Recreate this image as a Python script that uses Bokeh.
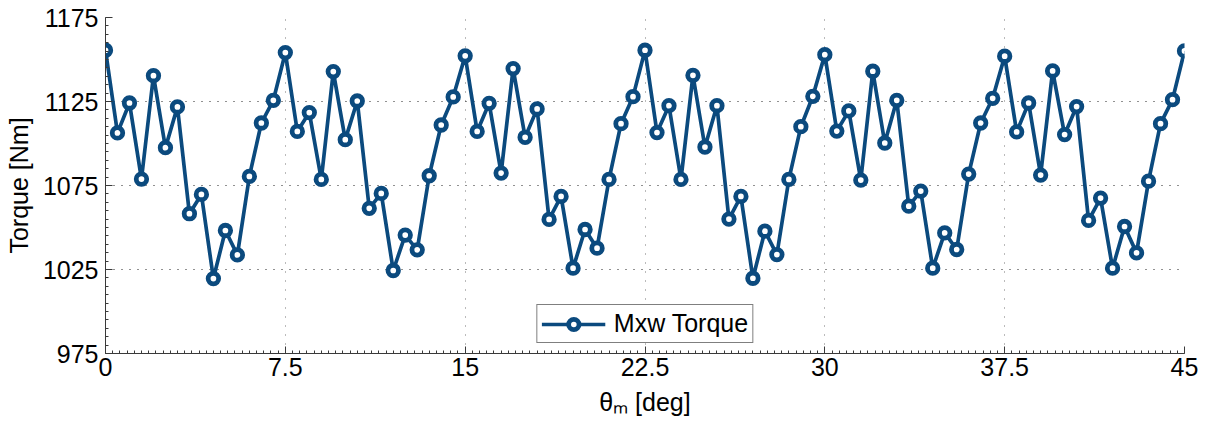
from bokeh.plotting import figure
from bokeh.models import (Range1d, FixedTicker, CustomJSTickFormatter,
                          Legend, LegendItem)
from bokeh.embed import file_html
from bokeh.resources import INLINE

# ---- data ----
theta_m = [0.0, 0.5, 1.0, 1.5, 2.0, 2.5, 3.0, 3.5, 4.0, 4.5, 5.0, 5.5, 6.0, 6.5, 7.0,
           7.5, 8.0, 8.5, 9.0, 9.5, 10.0, 10.5, 11.0, 11.5, 12.0, 12.5, 13.0, 13.5, 14.0, 14.5,
           15.0, 15.5, 16.0, 16.5, 17.0, 17.5, 18.0, 18.5, 19.0, 19.5, 20.0, 20.5, 21.0, 21.5, 22.0,
           22.5, 23.0, 23.5, 24.0, 24.5, 25.0, 25.5, 26.0, 26.5, 27.0, 27.5, 28.0, 28.5, 29.0, 29.5,
           30.0, 30.5, 31.0, 31.5, 32.0, 32.5, 33.0, 33.5, 34.0, 34.5, 35.0, 35.5, 36.0, 36.5, 37.0,
           37.5, 38.0, 38.5, 39.0, 39.5, 40.0, 40.5, 41.0, 41.5, 42.0, 42.5, 43.0, 43.5, 44.0, 44.5,
           45.0]
torque = [1155.5, 1106.3, 1124.1, 1078.8, 1140.4, 1097.5, 1121.8, 1058.2, 1069.7, 1019.6,
          1048.2, 1033.7, 1080.4, 1112.2, 1125.7,
          1154.1, 1107.2, 1118.4, 1078.6, 1142.8, 1102.3, 1125.3, 1061.4, 1070.3, 1024.4,
          1045.5, 1036.7, 1080.8, 1111.0, 1127.7,
          1152.2, 1107.2, 1123.9, 1082.4, 1144.6, 1103.7, 1120.6, 1054.8, 1068.5, 1025.8,
          1048.8, 1037.7, 1078.6, 1111.8, 1127.9,
          1155.5, 1106.5, 1122.5, 1078.6, 1140.6, 1097.9, 1122.5, 1055.0, 1068.5, 1019.8,
          1047.8, 1033.9, 1078.6, 1110.0, 1128.1,
          1152.9, 1107.4, 1119.4, 1078.2, 1143.0, 1100.3, 1125.7, 1062.7, 1071.7, 1025.8,
          1046.8, 1036.9, 1081.8, 1112.2, 1126.9,
          1152.0, 1106.9, 1124.1, 1081.2, 1143.2, 1105.3, 1122.0, 1054.2, 1067.5, 1025.8,
          1050.6, 1034.9, 1077.6, 1111.8, 1126.1,
          1155.1]
x_ticks = [0, 7.5, 15, 22.5, 30, 37.5, 45]
y_ticks = [975, 1025, 1075, 1125, 1175]
series_name = "Mxw Torque"
y_label = "Torque [Nm]"
x_label = "\u03b8\u2098 [deg]"

FONT = "Liberation Sans"
FS = "25px"
COLOR = "#0b4a7e"
AXC = "#3a3a3a"

p = figure(width=1205, height=425, output_backend="svg", toolbar_location=None,
           x_range=Range1d(0, 45), y_range=Range1d(975, 1175),
           min_border_left=105, min_border_right=21, min_border_top=17, min_border_bottom=72)
p.outline_line_color = None
p.background_fill_color = "white"
p.border_fill_color = "white"

x_minor = [round(0.3 * i, 4) for i in range(151)]
y_minor = [975 + 5 * i for i in range(41)]
xt = FixedTicker(ticks=x_ticks, minor_ticks=x_minor)
yt = FixedTicker(ticks=y_ticks, minor_ticks=y_minor)
p.xaxis.ticker = xt
p.yaxis.ticker = yt
p.xgrid.ticker = FixedTicker(ticks=x_ticks)
p.ygrid.ticker = FixedTicker(ticks=y_ticks)
fmt = CustomJSTickFormatter(code="return String(tick)")
p.xaxis.formatter = fmt
p.yaxis.formatter = fmt

for ax in (p.xaxis[0], p.yaxis[0]):
    ax.major_tick_in = 7
    ax.major_tick_out = 0
    ax.minor_tick_in = 3
    ax.minor_tick_out = 0
    ax.axis_line_color = AXC
    ax.major_tick_line_color = AXC
    ax.minor_tick_line_color = AXC
    ax.major_label_text_font = FONT
    ax.major_label_text_font_size = FS
    ax.major_label_text_color = "black"
    ax.axis_label_text_font = FONT
    ax.axis_label_text_font_size = FS
    ax.axis_label_text_font_style = "normal"
    ax.axis_label_text_color = "black"

p.xaxis.major_label_standoff = 4
p.yaxis.major_label_standoff = 7
p.yaxis.axis_label = y_label
p.yaxis.axis_label_standoff = 7
p.xaxis.axis_label = x_label
p.xaxis.axis_label_standoff = 9

p.ygrid.grid_line_color = "#222222"
p.ygrid.grid_line_dash = "1 7"
p.ygrid.grid_line_width = 1
p.xgrid.grid_line_color = "#777777"
p.xgrid.grid_line_dash = "1 8"
p.xgrid.grid_line_width = 1

r_line = p.line(theta_m, torque, line_color=COLOR, line_width=3.7)
r_pts = p.scatter(theta_m, torque, marker="circle", size=10.5, fill_color="white",
                  line_color=COLOR, line_width=4.8)

legend = Legend(items=[LegendItem(label=series_name, renderers=[r_line, r_pts])],
                location="bottom_center", orientation="vertical")
legend.label_text_font = FONT
legend.label_text_font_size = FS
legend.label_text_color = "black"
legend.border_line_color = "black"
legend.border_line_width = 1
legend.background_fill_color = "white"
legend.background_fill_alpha = 1.0
legend.padding = 4
legend.margin = 10
legend.spacing = 0
legend.glyph_width = 64
legend.glyph_height = 26
legend.label_standoff = 9
legend.label_height = 26
p.add_layout(legend, "center")

open("out.html", "w").write(file_html(p, INLINE))
